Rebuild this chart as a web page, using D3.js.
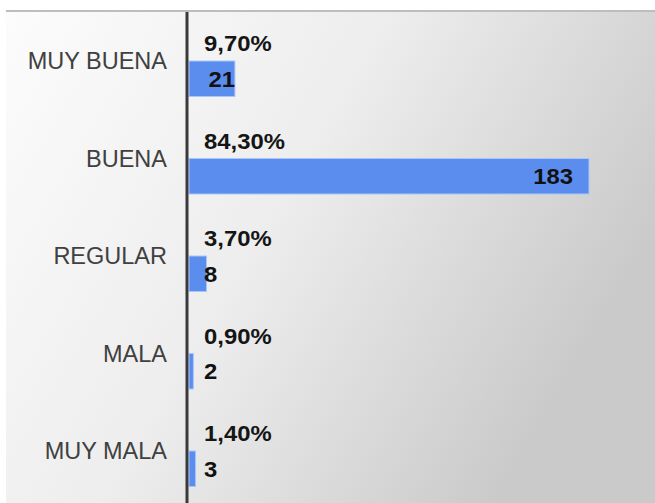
<!DOCTYPE html>
<html><head><meta charset="utf-8">
<script src="https://cdn.jsdelivr.net/npm/d3@7"></script>
<style>html,body{margin:0;padding:0;background:#fff;overflow:hidden}</style>
</head><body>
<svg id="chart" width="655" height="503"></svg>
<script>
const categories = ["MUY BUENA", "BUENA", "REGULAR", "MALA", "MUY MALA"];
const counts = [21, 183, 8, 2, 3];
const percents = ["9,70%", "84,30%", "3,70%", "0,90%", "1,40%"];

const W = 655, H = 503;
const svg = d3.select("#chart");
const defs = svg.append("defs");
const g = defs.append("linearGradient").attr("id", "bg")
  .attr("x1", 0).attr("y1", 0).attr("x2", 1).attr("y2", 0.45);
g.append("stop").attr("offset", "0%").attr("stop-color", "#fcfcfc");
g.append("stop").attr("offset", "50%").attr("stop-color", "#ededed");
g.append("stop").attr("offset", "100%").attr("stop-color", "#cacaca");

svg.append("rect").attr("x", 0).attr("y", 0).attr("width", W).attr("height", H).attr("fill", "#fff");
svg.append("rect").attr("x", 6).attr("y", 11).attr("width", W - 6).attr("height", H - 11).attr("fill", "url(#bg)");
svg.append("line").attr("x1", 6).attr("x2", W).attr("y1", 11).attr("y2", 11)
  .attr("stroke", "#bdbdbd").attr("stroke-width", 2);

const x0 = 189;
const x = d3.scaleLinear().domain([0, 183]).range([x0, 589]);
const y = d3.scaleBand().domain(categories).range([61, 486.5]).paddingInner(0.636).paddingOuter(0);

const data = categories.map((c, i) => ({ cat: c, v: counts[i], p: percents[i] }));
const FONT = "Liberation Sans, Arial, sans-serif";
const SX = 1.06;

// bars
svg.selectAll("rect.bar").data(data).join("rect").attr("class", "bar")
  .attr("x", x(0)).attr("y", d => y(d.cat))
  .attr("width", d => x(d.v) - x(0)).attr("height", y.bandwidth())
  .attr("fill", "#5b8def").attr("stroke", "#a9c6f9").attr("stroke-width", 1);

// axis line
svg.append("line").attr("x1", 187).attr("x2", 187).attr("y1", 12).attr("y2", H)
  .attr("stroke", "#3a3a3a").attr("stroke-width", 3);

// category labels
const yAxis = d3.axisLeft(y).tickSize(0).tickPadding(0);
const ax = svg.append("g").attr("transform", `translate(167,${-y.bandwidth() / 2})`).call(yAxis);
ax.select(".domain").remove();
ax.selectAll("text").attr("font-family", FONT)
  .attr("font-size", 23.5).attr("fill", "#404040").attr("dy", "0.35em");

// percent labels
svg.selectAll("text.pct").data(data).join("text").attr("class", "pct")
  .attr("transform", d => `translate(204,${y(d.cat) - 10}) scale(${SX},1)`)
  .attr("font-family", FONT).attr("font-weight", "bold")
  .attr("font-size", 22.5).attr("fill", "#151515").text(d => d.p);

// value labels
svg.selectAll("text.val").data(data).join("text").attr("class", "val")
  .attr("transform", d => {
    const w = x(d.v) - x(0);
    const px = w > 100 ? x(d.v) - 16 : (w > 30 ? x(d.v) : 204);
    return `translate(${px},${y(d.cat) + y.bandwidth() / 2}) scale(${SX},1)`;
  })
  .attr("text-anchor", d => (x(d.v) - x(0)) > 30 ? "end" : "start")
  .attr("dy", "0.36em")
  .attr("font-family", FONT).attr("font-weight", "bold")
  .attr("font-size", 22.5).attr("fill", "#111").text(d => d.v);
</script>
</body></html>
